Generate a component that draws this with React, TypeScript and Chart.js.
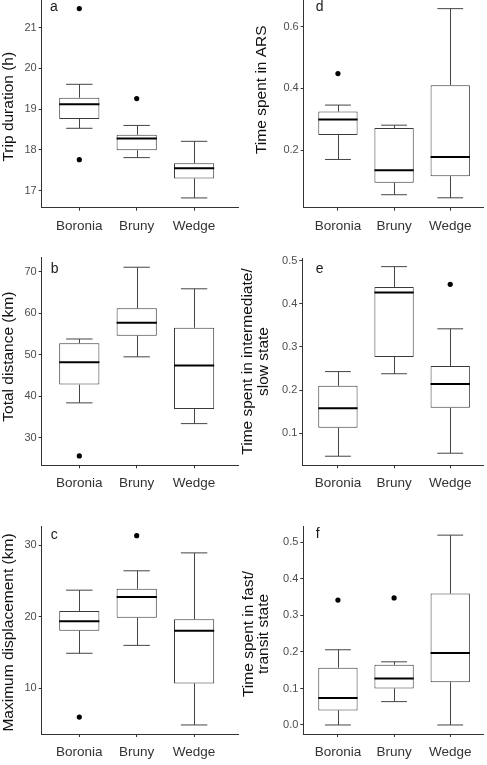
import React, { useEffect, useRef } from "react";
import { Chart, registerables } from "chart.js";

Chart.register(...registerables);

const sites = ["Boronia", "Bruny", "Wedge"];

// (a) Trip duration (h)
const tripLower = [18.53, 17.81, 16.82];
const tripQ1 = [18.76, 17.99, 17.3];
const tripMedian = [19.12, 18.28, 17.55];
const tripQ3 = [19.28, 18.37, 17.67];
const tripUpper = [19.61, 18.6, 18.21];
const tripOutliers = [[21.47, 17.76], [19.26], []];
const tripTicks = [17, 18, 19, 20, 21];

// (b) Total distance (km)
const distLower = [38.4, 49.5, 33.4];
const distQ1 = [42.8, 54.6, 36.9];
const distMedian = [48.2, 57.7, 47.4];
const distQ3 = [52.8, 61.2, 56.5];
const distUpper = [53.8, 71.1, 65.9];
const distOutliers = [[25.6], [], []];
const distTicks = [30, 40, 50, 60, 70];

// (c) Maximum displacement (km)
const dispLower = [14.9, 16.0, 4.9];
const dispQ1 = [18.05, 19.86, 10.7];
const dispMedian = [19.36, 22.75, 18.05];
const dispQ3 = [20.8, 23.9, 19.64];
const dispUpper = [23.7, 26.4, 28.9];
const dispOutliers = [[6.0], [31.3], []];
const dispTicks = [10, 20, 30];

// (d) Time spent in ARS
const arsLower = [0.17, 0.056, 0.046];
const arsQ1 = [0.249, 0.095, 0.116];
const arsMedian = [0.299, 0.135, 0.178];
const arsQ3 = [0.325, 0.272, 0.41];
const arsUpper = [0.346, 0.281, 0.658];
const arsOutliers = [[0.448], [], []];
const arsTicks = [0.2, 0.4, 0.6];

// (e) Time spent in intermediate/slow state
const slowLower = [0.047, 0.238, 0.054];
const slowQ1 = [0.113, 0.277, 0.159];
const slowMedian = [0.158, 0.426, 0.214];
const slowQ3 = [0.21, 0.439, 0.256];
const slowUpper = [0.243, 0.486, 0.342];
const slowOutliers = [[], [], [0.445]];
const slowTicks = [0.1, 0.2, 0.3, 0.4, 0.5];

// (f) Time spent in fast/transit state
const fastLower = [0, 0.064, 0];
const fastQ1 = [0.04, 0.1, 0.117];
const fastMedian = [0.074, 0.127, 0.197];
const fastQ3 = [0.157, 0.165, 0.36];
const fastUpper = [0.206, 0.173, 0.52];
const fastOutliers = [[0.342], [0.348], []];
const fastTicks = [0, 0.1, 0.2, 0.3, 0.4, 0.5];

const FONT = "'Liberation Sans', Arial, Helvetica, sans-serif";
const AXIS = "#333333";
const BOX = "#3a3a3a";
const WHISKER = "#444444";
const TICK_STEP = 57.4; // px between category centres
const CAP_HALF = 0.23; // half width of whisker caps, in category units

type Box = { x: number; y: number; w: number; h: number };
type Area = { l: number; t: number; r: number; b: number };

type Panel = {
  letter: string;
  letterPos: [number, number];
  title: string[];
  titleX: number[];
  titleY: number;
  lower: number[];
  q1: number[];
  median: number[];
  q3: number[];
  upper: number[];
  outliers: number[][];
  ticks: number[];
  decimals: number;
  yMin: number;
  yMax: number;
  canvas: Box;
  area: Area;
  firstTickX: number;
};

const LEFT_COL = { x: 0, w: 243 };
const RIGHT_COL = { x: 240, w: 247 };
const ROWS = [
  { y: -10, h: 255 },
  { y: 245, h: 255 },
  { y: 500, h: 265 },
];

const panels: Panel[] = [
  {
    letter: "a",
    letterPos: [50, 11],
    title: ["Trip duration (h)"],
    titleX: [9],
    titleY: 106.7,
    lower: tripLower,
    q1: tripQ1,
    median: tripMedian,
    q3: tripQ3,
    upper: tripUpper,
    outliers: tripOutliers,
    ticks: tripTicks,
    decimals: 0,
    yMin: 16.58,
    yMax: 21.68,
    canvas: { x: LEFT_COL.x, w: LEFT_COL.w, y: ROWS[0].y, h: ROWS[0].h },
    area: { l: 41.7, t: 0, r: 238, b: 207.7 },
    firstTickX: 79.3,
  },
  {
    letter: "d",
    letterPos: [315.7, 11],
    title: ["Time spent in ARS"],
    titleX: [261.3],
    titleY: 89.7,
    lower: arsLower,
    q1: arsQ1,
    median: arsMedian,
    q3: arsQ3,
    upper: arsUpper,
    outliers: arsOutliers,
    ticks: arsTicks,
    decimals: 1,
    yMin: 0.014,
    yMax: 0.686,
    canvas: { x: RIGHT_COL.x, w: RIGHT_COL.w, y: ROWS[0].y, h: ROWS[0].h },
    area: { l: 303.7, t: 0, r: 487, b: 207.7 },
    firstTickX: 338.7,
  },
  {
    letter: "b",
    letterPos: [50.7, 273.3],
    title: ["Total distance (km)"],
    titleX: [8.3],
    titleY: 356.7,
    lower: distLower,
    q1: distQ1,
    median: distMedian,
    q3: distQ3,
    upper: distUpper,
    outliers: distOutliers,
    ticks: distTicks,
    decimals: 0,
    yMin: 23.35,
    yMax: 73.4,
    canvas: { x: LEFT_COL.x, w: LEFT_COL.w, y: ROWS[1].y, h: ROWS[1].h },
    area: { l: 41.7, t: 257.7, r: 238, b: 465.3 },
    firstTickX: 79.3,
  },
  {
    letter: "e",
    letterPos: [315.7, 272.7],
    title: ["Time spent in intermediate/", "slow state"],
    titleX: [248, 263.5],
    titleY: 361.5,
    lower: slowLower,
    q1: slowQ1,
    median: slowMedian,
    q3: slowQ3,
    upper: slowUpper,
    outliers: slowOutliers,
    ticks: slowTicks,
    decimals: 1,
    yMin: 0.026,
    yMax: 0.506,
    canvas: { x: RIGHT_COL.x, w: RIGHT_COL.w, y: ROWS[1].y, h: ROWS[1].h },
    area: { l: 302.3, t: 258, r: 487, b: 465.3 },
    firstTickX: 338.7,
  },
  {
    letter: "c",
    letterPos: [50.7, 539.3],
    title: ["Maximum displacement (km)"],
    titleX: [8.3],
    titleY: 632.5,
    lower: dispLower,
    q1: dispQ1,
    median: dispMedian,
    q3: dispQ3,
    upper: dispUpper,
    outliers: dispOutliers,
    ticks: dispTicks,
    decimals: 0,
    yMin: 3.64,
    yMax: 32.65,
    canvas: { x: LEFT_COL.x, w: LEFT_COL.w, y: ROWS[2].y, h: ROWS[2].h },
    area: { l: 41.7, t: 526, r: 238, b: 734 },
    firstTickX: 79.3,
  },
  {
    letter: "f",
    letterPos: [315.7, 538.3],
    title: ["Time spent in fast/", "transit state"],
    titleX: [249, 264],
    titleY: 634,
    lower: fastLower,
    q1: fastQ1,
    median: fastMedian,
    q3: fastQ3,
    upper: fastUpper,
    outliers: fastOutliers,
    ticks: fastTicks,
    decimals: 1,
    yMin: -0.0247,
    yMax: 0.545,
    canvas: { x: RIGHT_COL.x, w: RIGHT_COL.w, y: ROWS[2].y, h: ROWS[2].h },
    area: { l: 303.3, t: 526, r: 487, b: 734 },
    firstTickX: 338.7,
  },
];

// Whiskers, caps, medians, panel letter and y-axis title for one panel.
function boxplotPlugin(p: Panel) {
  return {
    id: "boxplot-" + p.letter,
    beforeDatasetsDraw(chart: any) {
      const { ctx, scales } = chart;
      const x = scales.x;
      const y = scales.y;
      ctx.save();
      ctx.strokeStyle = WHISKER;
      ctx.lineWidth = 1;
      p.lower.forEach((lo: number, i: number) => {
        const cx = Math.round(x.getPixelForValue(i)) + 0.5;
        const c0 = x.getPixelForValue(i - CAP_HALF);
        const c1 = x.getPixelForValue(i + CAP_HALF);
        const yLo = y.getPixelForValue(lo);
        const yUp = y.getPixelForValue(p.upper[i]);
        const yQ1 = y.getPixelForValue(p.q1[i]);
        const yQ3 = y.getPixelForValue(p.q3[i]);
        ctx.beginPath();
        ctx.moveTo(cx, yQ1);
        ctx.lineTo(cx, yLo);
        ctx.moveTo(cx, yQ3);
        ctx.lineTo(cx, yUp);
        ctx.moveTo(c0, yLo);
        ctx.lineTo(c1, yLo);
        ctx.moveTo(c0, yUp);
        ctx.lineTo(c1, yUp);
        ctx.stroke();
      });
      ctx.restore();
    },
    afterDatasetsDraw(chart: any) {
      const { ctx, scales } = chart;
      const y = scales.y;
      const bars = chart.getDatasetMeta(0).data;
      ctx.save();
      ctx.strokeStyle = "#000000";
      ctx.lineWidth = 2;
      p.median.forEach((m: number, i: number) => {
        const bar = bars[i];
        const ym = y.getPixelForValue(m);
        ctx.beginPath();
        ctx.moveTo(bar.x - bar.width / 2, ym);
        ctx.lineTo(bar.x + bar.width / 2, ym);
        ctx.stroke();
      });
      ctx.restore();
    },
    afterDraw(chart: any) {
      const { ctx } = chart;
      const ox = p.canvas.x;
      const oy = p.canvas.y;
      ctx.save();
      ctx.fillStyle = "#1a1a1a";
      ctx.font = `14px ${FONT}`;
      ctx.textAlign = "left";
      ctx.textBaseline = "alphabetic";
      ctx.fillText(p.letter, p.letterPos[0] - ox, p.letterPos[1] - oy);

      ctx.fillStyle = "#111111";
      ctx.font = `15.5px ${FONT}`;
      ctx.textAlign = "center";
      ctx.textBaseline = "middle";
      p.title.forEach((line: string, k: number) => {
        ctx.save();
        ctx.translate(p.titleX[k] - ox, p.titleY - oy);
        ctx.rotate(-Math.PI / 2);
        ctx.fillText(line, 0, 0);
        ctx.restore();
      });
      ctx.restore();
    },
  };
}

function BoxPanel({ p }: { p: Panel }) {
  const ref = useRef<HTMLCanvasElement | null>(null);

  useEffect(() => {
    const canvas = ref.current;
    if (!canvas) return;
    const { canvas: c, area } = p;
    const yWidth = area.l - c.x;
    const xHeight = c.y + c.h - area.b;
    const padTop = area.t - c.y;
    const padRight = c.x + c.w - area.r;
    const xMin = -(p.firstTickX - area.l) / TICK_STEP;
    const xMax = xMin + (area.r - area.l) / TICK_STEP;

    const boxData = sites.map((_, i) => ({ x: i, y: [p.q1[i], p.q3[i]] }));
    const outlierData = p.outliers.flatMap((vals, i) =>
      vals.map((v) => ({ x: i, y: v }))
    );

    const chart = new Chart(canvas, {
      type: "bar",
      data: {
        datasets: [
          {
            type: "bar",
            data: boxData as any,
            backgroundColor: "#ffffff",
            borderColor: BOX,
            borderWidth: 1,
            borderSkipped: false,
            barPercentage: 0.7,
            categoryPercentage: 1,
            order: 2,
          } as any,
          {
            type: "scatter",
            data: outlierData as any,
            pointRadius: 2.6,
            pointBackgroundColor: "#000000",
            pointBorderWidth: 0,
            showLine: false,
            order: 1,
          } as any,
        ],
      },
      options: {
        animation: false,
        responsive: false,
        events: [],
        layout: { padding: { left: 0, top: padTop, right: padRight, bottom: 0 } },
        plugins: {
          legend: { display: false },
          tooltip: { enabled: false },
          title: { display: false },
        },
        scales: {
          x: {
            type: "linear",
            min: xMin,
            max: xMax,
            offset: false,
            grid: {
              drawOnChartArea: false,
              drawTicks: true,
              tickLength: 3,
              tickColor: AXIS,
              offset: false,
            },
            border: { display: true, color: AXIS, width: 1 },
            ticks: {
              autoSkip: false,
              maxRotation: 0,
              padding: 7,
              color: "#333333",
              font: { family: FONT, size: 13.5 },
              callback: (v: any) => sites[v as number] ?? "",
            },
            afterBuildTicks: (s: any) => {
              s.ticks = sites.map((_, i) => ({ value: i }));
            },
            afterFit: (s: any) => {
              s.height = xHeight;
              s.paddingLeft = 0;
              s.paddingRight = 0;
            },
          },
          y: {
            type: "linear",
            min: p.yMin,
            max: p.yMax,
            beginAtZero: false,
            grid: {
              drawOnChartArea: false,
              drawTicks: true,
              tickLength: 3,
              tickColor: AXIS,
            },
            border: { display: true, color: AXIS, width: 1 },
            ticks: {
              padding: 2,
              color: "#4d4d4d",
              font: { family: FONT, size: 11 },
              callback: (v: any) => Number(v).toFixed(p.decimals),
            },
            afterBuildTicks: (s: any) => {
              s.ticks = p.ticks.map((v) => ({ value: v }));
            },
            afterFit: (s: any) => {
              s.width = yWidth;
              s.paddingTop = 0;
              s.paddingBottom = 0;
            },
          },
        },
      } as any,
      plugins: [boxplotPlugin(p)],
    });

    return () => chart.destroy();
  }, [p]);

  return (
    <canvas
      ref={ref}
      width={p.canvas.w}
      height={p.canvas.h}
      style={{
        position: "absolute",
        left: p.canvas.x,
        top: p.canvas.y,
        width: p.canvas.w,
        height: p.canvas.h,
      }}
    />
  );
}

export default function App() {
  return (
    <div
      style={{
        position: "fixed",
        left: 0,
        top: 0,
        width: 487,
        height: 765,
        overflow: "hidden",
        background: "#ffffff",
      }}
    >
      {panels.map((p) => (
        <BoxPanel key={p.letter} p={p} />
      ))}
    </div>
  );
}
